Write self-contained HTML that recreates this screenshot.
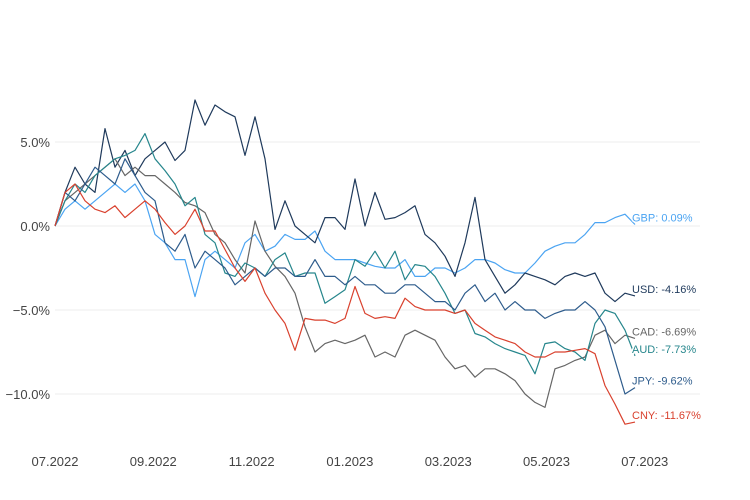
<!DOCTYPE html>
<html><head><meta charset="utf-8"><style>
body{margin:0;background:#fff}
svg{display:block;font-family:"Liberation Sans",sans-serif}
</style></head><body>
<svg id="chart" width="750" height="500"></svg>
<script>
const xTicks=["07.2022","09.2022","11.2022","01.2023","03.2023","05.2023","07.2023"];
const yTicks=[5,0,-5,-10];
const seriesNames=["GBP","USD","CAD","AUD","JPY","CNY"];
const seriesColors=["#4ba4f2","#1f3a5c","#666666","#26868c","#2e5c8c","#d9412e"];
const gbp=[0,1,1.5,1,1.5,2,2.5,2,2.5,1.5,-0.5,-1,-2,-2,-4.2,-2,-1.5,-2,-2.5,-1,-0.5,-1.5,-1.2,-0.5,-0.8,-0.8,-0.3,-1.5,-2,-2,-2,-2.2,-2.4,-2.5,-2.5,-2,-3,-3,-2.5,-2.5,-2.8,-2.5,-2,-2,-2.2,-2.6,-2.8,-2.8,-2.2,-1.5,-1.2,-1,-1,-0.5,0.2,0.2,0.5,0.7,0.09];
const usd=[0,2,3.5,2.5,2,5.8,3.5,4.5,3,4,4.5,5,3.9,4.5,7.5,6,7.2,6.8,6.5,4.2,6.5,4,-0.2,1.5,0,-0.5,-1,0.5,0.5,-0.2,2.8,0,2,0.4,0.5,0.8,1.2,-0.5,-1,-1.8,-3,-1,1.7,-2,-3,-4,-3.5,-2.8,-3,-3.2,-3.5,-3,-2.8,-3,-2.8,-4,-4.5,-4,-4.16];
const cad=[0,1.5,2,2.5,3,3.5,4,3,3.5,3,3,2.5,2,1.4,1.2,0.8,-0.5,-1,-2,-2.8,0.3,-1.5,-2.4,-3,-4,-6,-7.5,-7,-6.8,-7,-6.8,-6.5,-7.8,-7.5,-7.8,-6.5,-6.2,-6.5,-6.8,-7.8,-8.5,-8.3,-9,-8.5,-8.5,-8.8,-9.2,-10,-10.5,-10.8,-8.5,-8.3,-8,-7.8,-6.5,-6.2,-7,-6.5,-6.69];
const aud=[0,1.5,2.5,2,3,3.5,4,4.2,4.5,5.5,4,3.3,2.5,1.2,1.7,-0.5,-1,-2.8,-3,-2.2,-2.5,-3,-2,-1.6,-3,-2.8,-2.8,-4.6,-4.2,-3.8,-2,-2.4,-1.5,-2.5,-1.5,-3.2,-2.3,-2.4,-3,-4,-5.2,-5,-6.4,-6.6,-7,-7.3,-7.5,-7.7,-8.8,-7,-6.9,-7.3,-7.5,-8,-5.8,-5,-5.2,-6.2,-7.73];
const jpy=[0,2,1.5,2.5,3.5,3,2.5,4,3,2,1.5,-1,-1.5,-0.5,-2.5,-1.5,-2,-2.5,-3.5,-3,-2.5,-3,-2.5,-2.5,-3,-3,-2,-3,-3,-3.5,-3,-3.5,-3.5,-4,-4,-3.5,-3.5,-4,-4.5,-4.5,-5,-4,-3.5,-4.5,-4,-5,-4.5,-5,-5,-5.5,-5.2,-5,-5,-4.5,-5,-6,-8,-10,-9.62];
const cny=[0,2,2.5,1.5,1,0.8,1.2,0.5,1,1.5,1,0.2,-0.5,0,1,-0.3,-0.3,-1.4,-2.5,-3.3,-2.5,-4,-5,-5.8,-7.4,-5.5,-5.6,-5.6,-5.8,-5.5,-3.6,-5.2,-5.5,-5.4,-5.5,-4.3,-4.8,-5,-5,-5,-5.2,-5,-5.8,-6.2,-6.6,-6.8,-7,-7.5,-7.8,-7.8,-7.5,-7.5,-7.4,-7.3,-7.6,-9.5,-10.6,-11.8,-11.67];
const seriesData=[gbp,usd,cad,aud,jpy,cny];

const NS="http://www.w3.org/2000/svg";
const svg=document.getElementById('chart');
const y=v=>226-16.8*v;
const xTick=i=>55+i*98.3;
const X0=55,X1=635;
function mk(t,a){const e=document.createElementNS(NS,t);for(const k in a)e.setAttribute(k,a[k]);svg.appendChild(e);return e;}
yTicks.forEach(v=>{
  const g=mk('line',{x1:55,x2:700,y1:y(v),y2:y(v),stroke:'#eeeeee','stroke-width':1});
  
  
  const t=mk('text',{x:50,y:y(v)+5,'text-anchor':'end','font-size':13,fill:'#444'});
  t.textContent=(v<0?'\u2212':'')+Math.abs(v).toFixed(1)+'%';
  
  
});
xTicks.forEach((s,i)=>{
  const t=mk('text',{x:xTick(i),y:466,'text-anchor':'middle','font-size':13,fill:'#444'});
  t.textContent=s;
  
  
});
seriesData.forEach((d,k)=>{
  const n=d.length;
  const pts=d.map((v,i)=>(X0+i*(X1-X0)/(n-1)).toFixed(1)+','+y(v).toFixed(1)).join(' ');
  const p=mk('polyline',{points:pts,fill:'none',stroke:seriesColors[k],'stroke-width':1.2,'stroke-linejoin':'round'});
  
  
});
seriesData.forEach((d,k)=>{
  const last=d[d.length-1];
  const t=mk('text',{x:632,y:y(last)-3,'font-size':11,fill:seriesColors[k],stroke:'#fff','stroke-width':3,'paint-order':'stroke'});
  t.textContent=seriesNames[k]+': '+last.toFixed(2)+'%';
  
  
});
</script>
</body></html>
